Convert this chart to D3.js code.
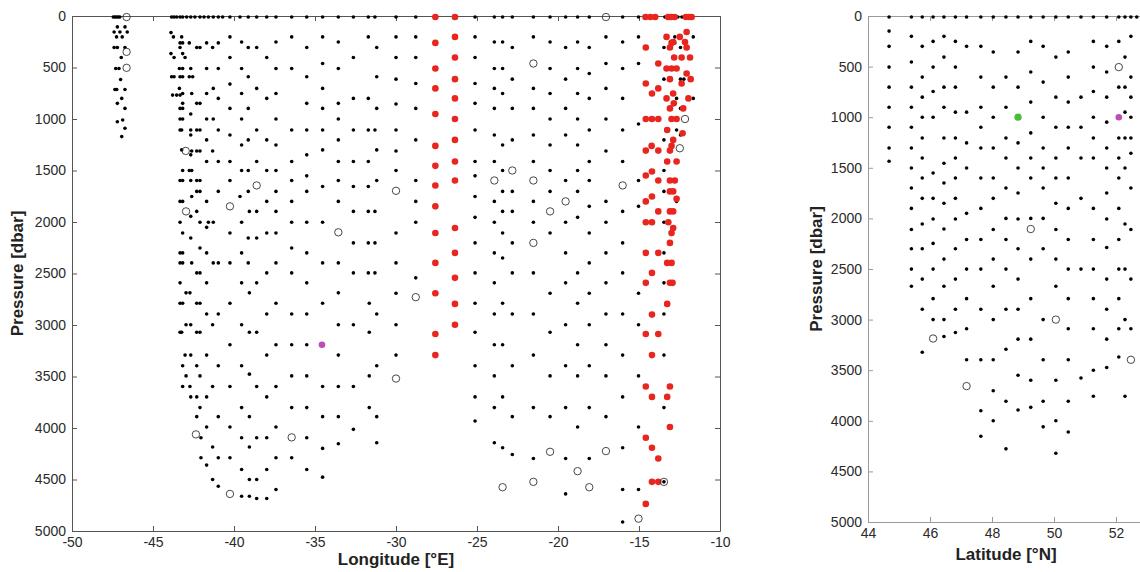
<!DOCTYPE html>
<html lang="en">
<head>
    <meta charset="UTF-8">
    <title>Pressure sections</title>

<style>
html, body {
    margin: 0;
    padding: 0;
    background: #fff;
}

#graph {
    width: 1140px;
    height: 572px;
}

svg text {
    font-family: "Liberation Sans", Arial, sans-serif;
}

.axis text {
    font-size: 14px;
    fill: #2a2a2a;
}

.left-panel .axis path,
.left-panel .axis line {
    stroke: #555;
}

.right-panel .axis path,
.right-panel .axis line {
    stroke: #9a9a9a;
}

.axisTitle {
    font-size: 17px;
    font-weight: bold;
    fill: #222;
}
</style>

</head>
<body>

<div id="graph"></div>

<script src="https://d3js.org/d3.v7.min.js"></script>
<script>

// ---- left section: longitude [°E] vs pressure [dbar] ----
// each row: [pressure, [longitudes...]]
const leftBlackRows = [
    [10, [-47.45, -47.35, -47.25, -47.15, -47.05, -43.85, -43.70, -43.54, -43.33, -43.17, -42.92, -42.67, -42.41, -42.10, -41.85, -41.58, -41.28, -40.97, -40.70, -40.25, -39.63, -39.12, -38.60, -37.98, -37.41, -36.44, -35.51, -34.53, -33.56, -32.63, -31.71, -31.30, -30.00, -28.78, -25.12, -23.93, -23.42, -22.82, -21.52, -20.49, -19.53, -18.79, -18.07, -16.01, -15.03, -13.40, -12.60, -12.35]],
    [106, [-47.20, -46.73]],
    [155, [-47.40, -47.04, -46.59]],
    [161, [-43.89]],
    [203, [-47.25, -46.90, -43.74, -43.23, -40.25, -36.44, -34.53, -31.71, -30.00, -28.78, -25.12, -21.52, -17.04, -15.03, -12.79, -11.65]],
    [252, [-39.53, -37.41, -33.56, -23.93, -23.42, -20.49, -18.79, -16.01]],
    [261, [-43.33, -43.17, -42.76, -41.69, -40.97, -12.79]],
    [306, [-47.40, -47.20, -46.73, -43.33, -42.30, -42.10, -41.32, -39.12, -38.60, -35.51, -31.19, -22.82, -19.53, -18.07, -13.46, -12.44]],
    [365, [-43.89, -43.17]],
    [403, [-46.96, -43.70, -43.02, -40.25, -37.98, -32.63, -30.00, -28.78, -25.12]],
    [461, [-34.53, -17.04, -15.03]],
    [510, [-47.30, -47.10, -43.37, -43.17, -42.67, -41.69, -40.97, -39.53, -37.41, -36.44, -33.56, -23.93, -23.42, -20.49, -18.79, -16.01]],
    [558, [-18.07]],
    [590, [-43.85, -43.70, -43.33, -43.17, -42.76, -42.55, -39.12, -35.51, -31.19]],
    [613, [-30.00, -22.82, -19.53, -13.46, -12.44, -12.23]],
    [616, [-47.00]],
    [655, [-28.78, -25.12]],
    [661, [-40.25]],
    [703, [-43.37, -41.28, -38.60, -34.53, -23.93, -21.52, -17.04]],
    [713, [-47.35, -47.24, -46.73]],
    [752, [-43.17, -42.61, -41.69, -39.53, -37.41, -23.42, -20.49, -18.79]],
    [768, [-43.79, -43.54, -43.33]],
    [800, [-46.93, -40.97, -37.98, -32.63, -31.71, -18.07, -16.01, -12.68, -11.65]],
    [848, [-47.20, -43.17, -42.30, -42.10, -35.51, -33.56, -25.12]],
    [855, [-30.00]],
    [897, [-46.73, -43.33, -43.17, -40.25, -39.12, -34.53, -31.19, -28.78, -23.93, -22.82, -21.52, -19.53, -12.44]],
    [952, [-42.67]],
    [1000, [-43.33, -43.17, -41.69, -41.28, -39.53, -37.41, -33.56, -20.49, -18.79, -17.04]],
    [1010, [-46.87]],
    [1026, [-47.20]],
    [1048, [-15.03]],
    [1090, [-46.73]],
    [1107, [-43.33, -43.23, -42.67, -42.30, -42.10, -40.97, -38.60, -36.44, -35.51, -34.53, -32.63, -31.71, -31.30, -30.00, -25.12, -18.07, -16.01, -12.68]],
    [1155, [-42.67, -40.25, -23.93, -21.52, -19.53, -12.44]],
    [1171, [-46.93]],
    [1203, [-41.69, -39.12, -37.98, -33.56, -28.78, -22.82, -13.46]],
    [1252, [-39.53, -37.41, -23.42, -20.49, -18.79]],
    [1300, [-43.23, -34.53, -31.19]],
    [1310, [-42.61, -42.30, -42.10, -41.32, -30.00, -17.04]],
    [1348, [-42.67, -35.51]],
    [1413, [-41.69, -40.97, -40.25, -38.60, -36.44, -33.56, -32.63, -31.71, -25.12, -23.93, -21.52, -18.07, -16.01, -12.68]],
    [1500, [-43.17, -42.76, -42.61, -39.53, -39.12, -37.98, -37.41, -30.00, -23.42, -20.49, -18.79, -13.46]],
    [1552, [-35.51, -25.12]],
    [1597, [-43.33, -43.17, -42.67, -42.30, -42.10, -40.25, -36.44, -33.56, -31.19, -28.78, -19.53, -18.07, -15.03, -12.79]],
    [1655, [-34.53, -32.63, -31.71]],
    [1703, [-42.30, -42.10, -40.97, -39.12, -37.41, -35.51, -23.42, -22.82, -20.49, -18.79, -13.46]],
    [1752, [-42.61, -39.63, -25.12]],
    [1800, [-43.33, -43.17, -41.69, -37.98, -36.44, -33.56, -28.78, -23.93, -21.52, -17.04, -12.68]],
    [1848, [-18.07, -15.03]],
    [1897, [-42.30, -39.05, -38.60, -37.41, -32.63, -31.71, -31.30, -23.42, -22.82, -16.01]],
    [1945, [-42.67]],
    [1955, [-25.12, -18.79]],
    [2003, [-43.33, -42.10, -41.58, -41.28, -39.53, -36.44, -35.51, -34.53, -28.78, -23.93, -21.52, -19.53, -17.04, -13.46]],
    [2052, [-41.69]],
    [2107, [-43.17, -40.25, -37.98, -37.41, -30.00, -23.42, -20.49, -18.07]],
    [2155, [-42.67, -39.12, -38.60]],
    [2203, [-32.63, -31.71, -31.30, -25.12, -22.82, -16.01]],
    [2252, [-42.10, -36.44]],
    [2300, [-43.33, -43.17, -41.69, -39.53, -35.51, -23.93, -19.53, -17.04, -13.46]],
    [2349, [-23.42]],
    [2397, [-43.33, -43.17, -42.61, -41.28, -40.97, -40.25, -39.12, -37.41, -34.53, -33.56, -30.00, -18.07]],
    [2494, [-42.30, -42.10, -37.98, -36.44, -32.63, -31.71, -31.30, -25.12, -22.82, -21.52, -18.79, -16.01]],
    [2542, [-28.78]],
    [2591, [-43.33, -41.69, -39.53, -38.60, -35.51, -23.93, -19.53, -17.04, -13.46]],
    [2688, [-42.96, -42.72, -39.05, -33.56]],
    [2692, [-30.00, -20.49, -18.07, -15.03]],
    [2789, [-43.33, -43.17, -42.30, -42.10, -40.25, -37.41, -34.53, -31.65, -25.12, -23.42, -18.79]],
    [2893, [-41.69, -40.97, -37.98, -36.44, -35.51, -31.19, -23.93, -22.82, -21.52, -17.04, -16.01, -13.46]],
    [2997, [-42.96, -42.67, -41.32, -39.53, -33.56, -32.63, -30.00, -19.53, -18.07, -15.03]],
    [3071, [-43.33, -43.23, -42.30, -42.10, -39.05, -38.60, -31.65, -25.12, -20.49]],
    [3192, [-40.25, -37.41, -36.44, -35.51, -23.93, -23.42, -18.79, -17.04]],
    [3292, [-43.02, -42.67, -41.69, -37.98, -33.56, -30.00, -21.52, -16.01, -13.46]],
    [3396, [-43.17, -42.30, -40.97, -39.53, -31.19, -25.12, -22.82, -19.53, -18.07]],
    [3477, [-39.05]],
    [3494, [-42.96, -42.10, -36.44, -35.51, -31.65, -23.93, -20.49, -18.79, -17.04, -15.03]],
    [3597, [-43.17, -42.72, -41.32, -40.25, -38.60, -37.41, -34.53, -33.56, -32.63]],
    [3698, [-42.67, -42.30, -41.69, -37.98, -25.12, -23.42, -16.01]],
    [3802, [-42.10, -39.53, -36.44, -35.51, -31.65, -23.93, -21.52, -19.53, -18.07, -13.46]],
    [3890, [-42.30, -40.97, -39.05, -34.53, -33.56, -31.19, -22.82, -20.49, -17.04]],
    [3932, [-25.12]],
    [3990, [-41.69, -40.25, -37.41, -18.79, -15.03]],
    [4013, [-32.63]],
    [4094, [-42.04, -39.53, -38.60, -37.98, -35.51]],
    [4143, [-31.19, -23.93]],
    [4153, [-33.56]],
    [4185, [-41.32, -39.05]],
    [4192, [-23.42, -16.01]],
    [4198, [-34.53]],
    [4257, [-22.82]],
    [4289, [-42.04, -40.97, -40.25, -37.41, -36.44]],
    [4296, [-21.52, -19.53, -18.07]],
    [4360, [-41.69]],
    [4403, [-39.53, -37.98, -35.51]],
    [4477, [-34.53]],
    [4500, [-41.32, -39.05, -38.60]],
    [4523, [-13.46]],
    [4565, [-40.97]],
    [4597, [-37.41, -16.01, -15.03]],
    [4640, [-19.53]],
    [4662, [-39.53, -39.05]],
    [4685, [-38.60, -37.98]],
    [4912, [-16.01]]
];

const leftRedRows = [
    [10, [-27.57, -26.36, -14.60, -14.30, -14.00, -13.20, -13.00, -12.80, -12.10, -11.90, -11.75]],
    [155, [-12.06]],
    [203, [-26.36, -13.30, -12.48]],
    [252, [-12.89, -12.16]],
    [261, [-27.57, -12.99]],
    [306, [-14.58, -13.09, -12.06]],
    [403, [-26.36, -12.83, -12.37, -11.85]],
    [461, [-13.81]],
    [510, [-27.57, -13.30, -12.99, -12.68]],
    [558, [-12.06]],
    [613, [-26.36, -13.09, -11.81]],
    [655, [-14.58, -12.37]],
    [703, [-27.57, -13.81]],
    [752, [-14.20, -12.89]],
    [800, [-26.36, -13.30, -11.95]],
    [848, [-12.85]],
    [897, [-13.09, -12.27]],
    [952, [-27.57]],
    [1000, [-26.36, -14.58, -14.20, -13.81, -12.99, -12.68]],
    [1107, [-13.26]],
    [1139, [-12.31]],
    [1203, [-26.36, -12.89]],
    [1261, [-27.57, -14.22, -12.99]],
    [1307, [-14.58, -13.81, -13.09]],
    [1413, [-26.36, -13.26, -12.68]],
    [1455, [-27.57]],
    [1510, [-14.20]],
    [1548, [-14.58]],
    [1597, [-26.36, -13.81, -13.09, -12.79]],
    [1645, [-27.57]],
    [1703, [-13.09, -12.89]],
    [1752, [-14.20]],
    [1775, [-12.68]],
    [1800, [-14.58]],
    [1848, [-27.57]],
    [1897, [-13.81, -13.09, -12.89]],
    [2003, [-14.58, -14.20, -13.19]],
    [2058, [-26.36, -12.89]],
    [2107, [-27.57, -12.99]],
    [2203, [-13.09]],
    [2300, [-26.36, -14.58, -13.81]],
    [2397, [-27.57, -13.26, -12.99]],
    [2494, [-14.20]],
    [2542, [-26.36]],
    [2591, [-14.58, -13.09, -12.93]],
    [2692, [-27.57]],
    [2795, [-26.36, -13.26]],
    [2899, [-14.20]],
    [2997, [-26.36]],
    [3088, [-27.57, -14.58, -13.81]],
    [3292, [-27.57, -14.20]],
    [3597, [-14.58, -13.09]],
    [3698, [-14.20, -13.26]],
    [3990, [-13.09]],
    [4094, [-14.58]],
    [4192, [-14.20]],
    [4296, [-13.81]],
    [4523, [-14.20, -13.81]],
    [4737, [-14.58]]
];

// [longitude, pressure]
const leftOpen = [
    [-46.63, 10], [-46.63, 348], [-46.63, 503], [-42.98, 1310], [-38.60, 1645],
    [-40.25, 1848], [-42.96, 1897], [-33.56, 2100], [-17.04, 10], [-21.52, 461],
    [-12.16, 1000], [-12.48, 1284], [-22.82, 1500], [-23.93, 1597], [-21.52, 1597],
    [-16.01, 1645], [-30.00, 1697], [-19.53, 1800], [-20.49, 1897], [-21.52, 2203],
    [-42.35, 4062], [-36.44, 4091], [-40.25, 4640], [-28.78, 2730], [-30.00, 3520],
    [-20.49, 4231], [-17.04, 4224], [-18.79, 4419], [-21.52, 4523], [-13.46, 4523],
    [-23.42, 4575], [-18.07, 4575], [-15.03, 4880]
];
const leftPurple = [[-34.57, 3192]];

// ---- right section: latitude [°N] vs pressure [dbar] ----
const rightBlackRows = [
    [10, [44.68, 45.40, 45.75, 46.10, 46.45, 46.82, 47.18, 47.64, 48.04, 48.45, 48.84, 49.25, 49.65, 50.06, 50.46, 50.87, 51.27, 51.70, 52.09, 52.29, 52.48, 52.67]],
    [149, [44.68]],
    [201, [45.40, 46.45, 52.48]],
    [251, [46.10, 46.82, 49.25, 51.27, 52.09]],
    [300, [44.68, 45.75, 47.18, 47.64, 49.65, 51.70]],
    [356, [48.04, 48.84, 50.46]],
    [406, [46.45, 50.06, 52.29]],
    [455, [45.40]],
    [505, [44.68, 46.10, 46.82, 51.27]],
    [554, [49.25, 51.70]],
    [604, [45.75, 47.64, 48.45, 50.46, 52.48]],
    [653, [49.65]],
    [703, [44.68, 45.40, 46.45, 46.82, 48.04, 48.84, 52.09, 52.29]],
    [746, [46.10, 51.27]],
    [802, [45.75, 50.06, 50.87, 51.70, 52.48]],
    [851, [49.25, 50.46]],
    [901, [44.68, 45.40, 46.45, 47.64, 48.45]],
    [950, [46.82, 47.18, 52.29]],
    [1000, [45.75, 46.10, 48.04, 49.65, 51.27, 52.48]],
    [1049, [51.70]],
    [1099, [44.68, 45.40, 47.64, 50.06, 50.46, 50.87]],
    [1155, [49.25]],
    [1205, [45.75, 46.45, 46.82, 48.45, 51.27, 52.09, 52.29, 52.48]],
    [1254, [47.18, 48.84]],
    [1304, [44.68, 45.40, 47.64, 48.04, 49.65, 50.46, 51.70]],
    [1356, [52.48]],
    [1403, [45.75, 46.82, 48.45, 49.25, 50.06, 50.87, 51.27, 52.09]],
    [1436, [44.68]],
    [1455, [46.45]],
    [1502, [45.40, 47.18, 48.84, 49.65, 51.70, 52.29]],
    [1551, [46.10]],
    [1601, [45.75, 46.82, 47.64, 48.04, 49.25, 50.06, 50.46, 52.09]],
    [1650, [46.45]],
    [1700, [45.40, 48.45, 49.65, 52.48]],
    [1749, [48.84, 51.70]],
    [1802, [45.75, 46.10, 46.82, 48.04, 50.87]],
    [1851, [46.45, 50.06]],
    [1901, [45.40, 47.64, 50.46, 51.27, 52.09]],
    [1950, [47.18]],
    [2000, [48.45, 49.25, 49.65]],
    [2006, [46.10, 46.82, 48.84, 51.70]],
    [2056, [45.75, 52.29]],
    [2105, [46.45]],
    [2109, [45.40, 48.04, 50.06, 52.48]],
    [2208, [47.18, 47.64, 48.45, 50.46, 51.27, 52.09]],
    [2247, [46.10]],
    [2287, [51.70]],
    [2300, [45.40, 45.75, 46.82, 48.84, 49.65]],
    [2402, [46.45, 48.04, 49.25, 50.06]],
    [2501, [45.40, 46.10, 47.18, 47.64, 48.45, 50.46, 50.87, 51.27, 52.09, 52.29]],
    [2600, [45.75, 46.82, 48.84, 51.70, 52.48]],
    [2670, [45.40, 46.45, 48.04, 50.06]],
    [2793, [46.10, 47.18, 49.25, 50.46, 51.27, 52.09]],
    [2897, [45.75, 46.82, 47.64, 48.45, 48.84, 51.70]],
    [3000, [46.10, 46.45, 48.04, 49.65, 52.29]],
    [3090, [47.18, 50.46, 51.27, 52.09, 52.48]],
    [3127, [46.82]],
    [3167, [46.45]],
    [3193, [48.84, 49.25, 51.70]],
    [3293, [48.45]],
    [3323, [45.75]],
    [3370, [52.09]],
    [3397, [47.18, 47.64, 48.04, 49.65, 50.46]],
    [3473, [51.70]],
    [3500, [51.27]],
    [3550, [48.84]],
    [3577, [50.87]],
    [3600, [49.25, 50.06]],
    [3703, [48.04]],
    [3757, [51.27, 52.29]],
    [3807, [48.45, 49.65, 50.46]],
    [3867, [49.25]],
    [3893, [48.84]],
    [3900, [47.64]],
    [4000, [48.04, 50.06]],
    [4060, [49.65]],
    [4110, [50.46]],
    [4153, [47.64]],
    [4277, [48.45]],
    [4320, [50.06]]
];
const rightOpen = [[52.09, 505], [49.25, 2105], [50.06, 3000], [46.10, 3187], [52.48, 3397], [47.18, 3657]];
const rightGreen = [[48.84, 1000]];
const rightPurple = [[52.09, 1000]];

const pressureTicks = [0, 500, 1000, 1500, 2000, 2500, 3000, 3500, 4000, 4500, 5000];
const lonTicks = [-50, -45, -40, -35, -30, -25, -20, -15, -10];
const latTicks = [44, 46, 48, 50, 52];


!(function(){
    let width = 1140;
    let height = 572;
    let svg = d3.select("#graph").append("svg")
        .attr("width", width)
        .attr("height", height);

    function flatten(rows) {
        let out = [];
        rows.forEach((r) => {
            r[1].forEach((x) => { out.push([x, r[0]]) });
        });
        return out;
    }

    function drawPanel(cfg) {
        let layer = svg.append("g").attr("class", cfg.cls);

        let xScale = d3.scaleLinear().domain(cfg.xDomain).range(cfg.xRange);
        let yScale = d3.scaleLinear().domain([0, 5000]).range(cfg.yRange);
        let fmt = (d) => String(d);

        let x0 = cfg.xRange[0], x1 = cfg.xRange[1];
        let y0 = cfg.yRange[0], y1 = cfg.yRange[1];

        // axes (ticks point inward, like a boxed plot)
        layer.append("g").attr("class", "axis")
            .attr("transform", `translate(0, ${y1})`)
            .call(d3.axisBottom(xScale).tickValues(cfg.xTicks).tickFormat(fmt)
                .tickSizeInner(-5).tickSizeOuter(0).tickPadding(6));

        layer.append("g").attr("class", "axis")
            .attr("transform", `translate(0, ${y0})`)
            .call(d3.axisTop(xScale).tickValues(cfg.xTicks).tickFormat("")
                .tickSizeInner(-5).tickSizeOuter(0));

        layer.append("g").attr("class", "axis")
            .attr("transform", `translate(${x0}, 0)`)
            .call(d3.axisLeft(yScale).tickValues(pressureTicks).tickFormat(fmt)
                .tickSizeInner(-5).tickSizeOuter(0).tickPadding(6));

        layer.append("g").attr("class", "axis")
            .attr("transform", `translate(${x1}, 0)`)
            .call(d3.axisRight(yScale).tickValues(pressureTicks).tickFormat("")
                .tickSizeInner(-5).tickSizeOuter(0));

        layer.selectAll(".axis text").attr("fill", "#2a2a2a");

        // titles
        layer.append("text")
            .attr("class", "axisTitle")
            .attr("x", cfg.xTitleX)
            .attr("y", cfg.xTitleY)
            .attr("text-anchor", "middle")
            .text(cfg.xTitle);

        layer.append("text")
            .attr("class", "axisTitle")
            .attr("transform", `translate(${cfg.yTitleX}, ${(y0 + y1) / 2}) rotate(-90)`)
            .attr("text-anchor", "middle")
            .text("Pressure [dbar]");

        let pts = layer.append("g");

        pts.selectAll(".black").data(flatten(cfg.black)).enter()
            .append("circle").attr("class", "black")
            .attr("cx", (d) => xScale(d[0]))
            .attr("cy", (d) => yScale(d[1]))
            .attr("r", 1.8)
            .attr("fill", "#000");

        if (cfg.red) {
            pts.selectAll(".red").data(flatten(cfg.red)).enter()
                .append("circle").attr("class", "red")
                .attr("cx", (d) => xScale(d[0]))
                .attr("cy", (d) => yScale(d[1]))
                .attr("r", 3.3)
                .attr("fill", "#e8261f");
        }

        pts.selectAll(".open").data(cfg.open).enter()
            .append("circle").attr("class", "open")
            .attr("cx", (d) => xScale(d[0]))
            .attr("cy", (d) => yScale(d[1]))
            .attr("r", 3.7)
            .attr("fill", "none")
            .attr("stroke", "#333")
            .attr("stroke-width", 0.9);

        (cfg.green || []).forEach((d) => {
            pts.append("circle")
                .attr("cx", xScale(d[0])).attr("cy", yScale(d[1]))
                .attr("r", 3.6).attr("fill", "#4cba3c");
        });

        (cfg.purple || []).forEach((d) => {
            pts.append("circle")
                .attr("cx", xScale(d[0])).attr("cy", yScale(d[1]))
                .attr("r", 3.3).attr("fill", "#bf4cb2");
        });
    }

    drawPanel({
        cls: "left-panel",
        xDomain: [-50, -10], xRange: [72, 720],
        yRange: [16, 531],
        xTicks: lonTicks,
        xTitle: "Longitude [°E]", xTitleX: 396, xTitleY: 565,
        yTitleX: 23,
        black: leftBlackRows, red: leftRedRows,
        open: leftOpen, purple: leftPurple
    });

    drawPanel({
        cls: "right-panel",
        xDomain: [44, 53], xRange: [868, 1147],
        yRange: [16, 522],
        xTicks: latTicks,
        xTitle: "Latitude [°N]", xTitleX: 1006, xTitleY: 560,
        yTitleX: 822,
        black: rightBlackRows,
        open: rightOpen, green: rightGreen, purple: rightPurple
    });
}());

</script>

</body>
</html>
